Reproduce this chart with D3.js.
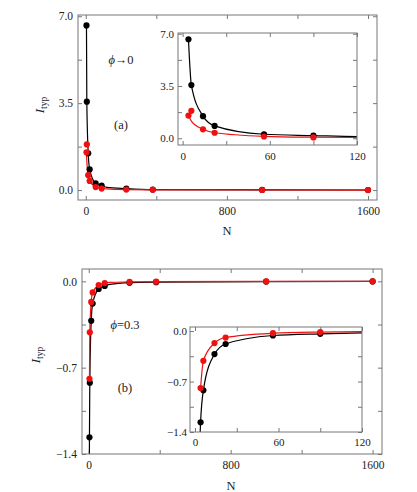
<!DOCTYPE html>
<html>
<head>
<meta charset="utf-8">
<script src="https://cdn.jsdelivr.net/npm/d3@7"></script>
<style>
  body { margin: 0; background: #fff; }
  svg text { font-family: "Liberation Serif", "DejaVu Serif", serif !important; fill: #222; }
  .axis text { font-size: 11.5px; }
  .inset .axis text { font-size: 11px; }
  .axis line { stroke: #777; }
  .frame { fill: none; stroke: #777; stroke-width: 1; }
</style>
</head>
<body>
<div id="chart"></div>
<script>
const WIDTH = 417, HEIGHT = 492;
const SERIF = "'Liberation Serif', 'DejaVu Serif', serif";

// system sizes
const N = [4, 6, 14, 22, 56, 90, 230, 380, 1000, 1600];
// panel (a), phi -> 0
const aBlack = [6.63, 3.56, 1.48, 0.83, 0.27, 0.18, 0.06, 0.02, 0.005, 0.002];
const aRed   = [1.52, 1.84, 0.60, 0.37, 0.12, 0.06, 0.02, 0.01, 0.003, 0.001];
// panel (b), phi = 0.3
const bBlack = [-1.265, -0.822, -0.32, -0.18, -0.062, -0.038, -0.011, -0.007, -0.002, -0.001];
const bRed   = [-0.79, -0.413, -0.167, -0.09, -0.03, -0.014, -0.005, -0.003, -0.001, 0];

// fitted curves
const fitNa = [4, 6, 14, 22, 56, 90, 120, 230, 380, 1000, 1600];
const fitNb = [3.6, 4, 6, 14, 22, 56, 90, 120, 230, 380, 1000, 1600];
const aBlackFit = [6.63, 3.56, 1.48, 0.83, 0.27, 0.18, 0.11, 0.06, 0.02, 0.005, 0.002];
const aRedFit   = [1.52, 1.15, 0.60, 0.37, 0.13, 0.07, 0.05, 0.02, 0.01, 0.003, 0.001];
const bBlackFit = [-1.45, -1.265, -0.822, -0.32, -0.18, -0.062, -0.038, -0.025, -0.011, -0.007, -0.002, -0.001];
const bRedFit   = [-0.79, -0.413, -0.167, -0.09, -0.03, -0.014, -0.009, -0.005, -0.003, -0.001, 0];

// ticks
const mainXTicks = [0, 800, 1600], mainXMinor = [400, 1200];
const insetXTicks = [0, 60, 120], insetXMinor = [30, 90];
const aYTicks = [0, 3.5, 7], aYMinor = [1.75, 5.25];
const bYTicks = [-1.4, -0.7, 0], bYMinor = [-1.05, -0.35];

const RED = "#ee1111", BLACK = "#000";

const svg = d3.select("#chart").append("svg")
  .attr("width", WIDTH).attr("height", HEIGHT)
  .style("font-family", SERIF);

let clipId = 0;
function panel(box, xDom, yDom, xMaj, xMin, yMaj, yMin, series, opts) {
  const g = svg.append("g").attr("class", opts.cls || "");
  const x = d3.scaleLinear().domain(xDom).range([box.x0, box.x1]);
  const y = d3.scaleLinear().domain(yDom).range([box.y1, box.y0]);
  const W = box.x1 - box.x0, H = box.y1 - box.y0;

  g.append("rect").attr("x", box.x0).attr("y", box.y0)
    .attr("width", W).attr("height", H).attr("fill", "#fff");

  const fmtY = v => yMaj.includes(v) ? d3.format(".1f")(v).replace("-", "\u2212") : "";
  const fmtX = v => xMaj.includes(v) ? String(v) : "";
  const xt = xMaj.concat(xMin), yt = yMaj.concat(yMin);

  const axes = [
    g.append("g").attr("transform", `translate(0,${box.y1})`)
      .call(d3.axisBottom(x).tickValues(xt).tickSize(-4).tickPadding(opts.xPad).tickFormat(fmtX)),
    g.append("g").attr("transform", `translate(0,${box.y0})`)
      .call(d3.axisTop(x).tickValues(xt).tickSize(-4).tickFormat("")),
    g.append("g").attr("transform", `translate(${box.x0},0)`)
      .call(d3.axisLeft(y).tickValues(yt).tickSize(-4).tickPadding(opts.yPad).tickFormat(fmtY)),
    g.append("g").attr("transform", `translate(${box.x1},0)`)
      .call(d3.axisRight(y).tickValues(yt).tickSize(-4).tickFormat(""))
  ];
  axes.forEach(a => {
    a.attr("class", "axis").attr("font-family", null).attr("font-size", null);
    a.selectAll("text").attr("font-family", SERIF).style("font-family", SERIF);
  });
  g.selectAll(".domain").remove();

  const cid = "clip" + (clipId++);
  g.append("clipPath").attr("id", cid).append("rect")
    .attr("x", box.x0).attr("y", box.y0).attr("width", W).attr("height", H);
  const plot = g.append("g").attr("clip-path", `url(#${cid})`);

  const line = d3.line().x(d => x(d[0])).y(d => y(d[1])).curve(d3.curveMonotoneX);
  series.forEach(s => {
    plot.append("path")
      .datum(d3.zip(s.fitN, s.fit))
      .attr("fill", "none").attr("stroke", s.color).attr("stroke-width", 1.2)
      .attr("d", line);
  });
  series.forEach(s => {
    plot.selectAll(null)
      .data(d3.zip(N, s.vals).filter(d => d[0] <= xDom[1]))
      .join("circle")
      .attr("cx", d => x(d[0])).attr("cy", d => y(d[1]))
      .attr("r", 3.1).attr("fill", s.color);
  });

  g.append("rect").attr("class", "frame").attr("x", box.x0).attr("y", box.y0)
    .attr("width", W).attr("height", H);
  return { x, y };
}

function yLabel(cx, cy) {
  const t = svg.append("text")
    .attr("transform", `translate(${cx},${cy}) rotate(-90)`)
    .attr("text-anchor", "middle").style("font-size", "13px");
  t.append("tspan").style("font-style", "italic").text("I");
  t.append("tspan").attr("dy", 3).style("font-size", "9.5px").text("typ");
}

function note(x, y, italicPart, rest) {
  const t = svg.append("text").attr("x", x).attr("y", y).attr("text-anchor", "middle")
    .style("font-size", "12.5px");
  if (italicPart) t.append("tspan").style("font-style", "italic").text(italicPart);
  t.append("tspan").text(rest);
}

// ---- panel (a)
const seriesA = [
  { vals: aBlack, fit: aBlackFit, fitN: fitNa, color: BLACK },
  { vals: aRed, fit: aRedFit, fitN: fitNa, color: RED }
];
panel({ x0: 78, x1: 377, y0: 15, y1: 200 }, [-44, 1651], [-0.4, 7.05],
  mainXTicks, mainXMinor, aYTicks, aYMinor, seriesA, { xPad: 7, yPad: 5 });
panel({ x0: 178, x1: 357, y0: 33, y1: 145 }, [-3.2, 120], [-0.45, 7.05],
  insetXTicks, insetXMinor, aYTicks, aYMinor, seriesA, { xPad: 7, yPad: 4, cls: "inset" });

yLabel(44, 105);
note(227, 235, null, "N");
note(121, 64, "\u03d5", "\u21920");
note(121, 129, null, "(a)");

// ---- panel (b)
const seriesB = [
  { vals: bBlack, fit: bBlackFit, fitN: fitNb, color: BLACK },
  { vals: bRed, fit: bRedFit, fitN: fitNa, color: RED }
];
panel({ x0: 82, x1: 382, y0: 269, y1: 454 }, [-38, 1653], [-1.4, 0.1],
  mainXTicks, mainXMinor, bYTicks, bYMinor, seriesB, { xPad: 7, yPad: 5 });
panel({ x0: 190, x1: 362, y0: 327, y1: 432 }, [-3.6, 120], [-1.4, 0.056],
  insetXTicks, insetXMinor, bYTicks, bYMinor, seriesB, { xPad: 6, yPad: 3, cls: "inset" });

yLabel(40, 355);
note(231, 490, null, "N");
note(125, 329, "\u03d5", "=0.3");
note(125, 392, null, "(b)");
</script>
</body>
</html>
